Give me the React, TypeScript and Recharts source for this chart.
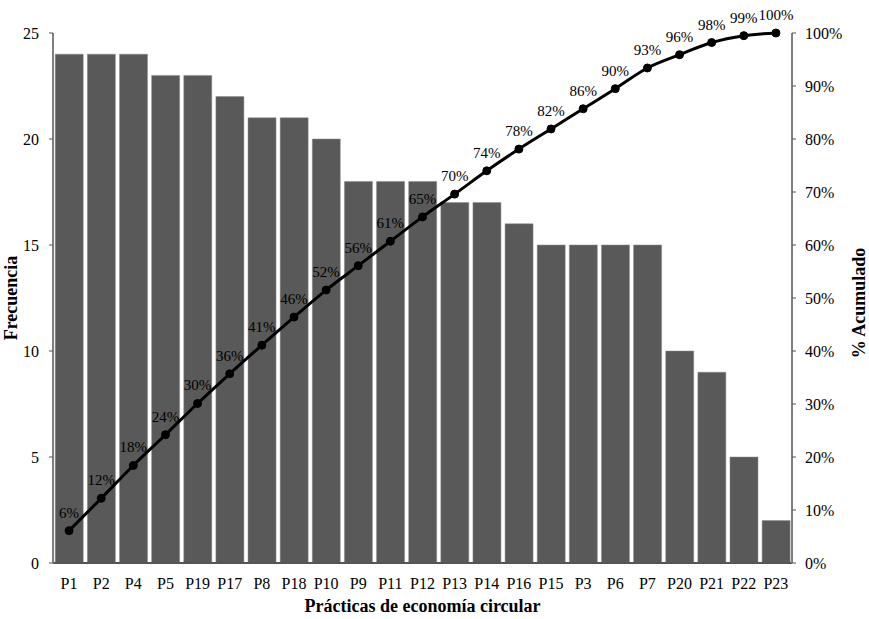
import React from 'react';
import { ComposedChart, Bar, Line, XAxis, YAxis, LabelList, Label } from 'recharts';

const categories = ['P1', 'P2', 'P4', 'P5', 'P19', 'P17', 'P8', 'P18', 'P10', 'P9', 'P11', 'P12', 'P13', 'P14', 'P16', 'P15', 'P3', 'P6', 'P7', 'P20', 'P21', 'P22', 'P23'];
const frecuencia = [24, 24, 24, 23, 23, 22, 21, 21, 20, 18, 18, 18, 17, 17, 16, 15, 15, 15, 15, 10, 9, 5, 2];
const acumulado = [6.1, 12.2, 18.4, 24.2, 30.1, 35.7, 41.1, 46.4, 51.5, 56.1, 60.7, 65.3, 69.6, 74.0, 78.1, 81.9, 85.7, 89.5, 93.4, 95.9, 98.2, 99.5, 100];
const acumuladoLabels = ['6%', '12%', '18%', '24%', '30%', '36%', '41%', '46%', '52%', '56%', '61%', '65%', '70%', '74%', '78%', '82%', '86%', '90%', '93%', '96%', '98%', '99%', '100%'];
const leftTicks = [0, 5, 10, 15, 20, 25];
const rightTicks = [0, 10, 20, 30, 40, 50, 60, 70, 80, 90, 100];

const data = categories.map((c, i) => ({
  name: c,
  frecuencia: frecuencia[i],
  acumulado: acumulado[i],
  label: acumuladoLabels[i],
}));

const FONT = '"Liberation Serif", "Times New Roman", serif';
const tickStyle = { fontFamily: FONT, fontSize: 16, fill: '#000' };

const LeftTitle = (props: any) => {
  const vb = props.viewBox || {};
  const x = vb.x + 11;
  const y = vb.y + vb.height / 2;
  return (
    <text x={x} y={y} transform={`rotate(-90, ${x}, ${y})`} textAnchor="middle" dominantBaseline="central"
      style={{ fontFamily: FONT, fontSize: 18, fontWeight: 'bold', fill: '#000' }}>
      Frecuencia
    </text>
  );
};

const RightTitle = (props: any) => {
  const vb = props.viewBox || {};
  const x = vb.x + 67;
  const y = vb.y + vb.height / 2 + 5;
  return (
    <text x={x} y={y} transform={`rotate(-90, ${x}, ${y})`} textAnchor="middle" dominantBaseline="central"
      style={{ fontFamily: FONT, fontSize: 18, fontWeight: 'bold', fill: '#000' }}>
      % Acumulado
    </text>
  );
};

const BottomTitle = (props: any) => {
  const vb = props.viewBox || {};
  const x = vb.x + vb.width / 2;
  const y = vb.y + 49;
  return (
    <text x={x} y={y} textAnchor="middle"
      style={{ fontFamily: FONT, fontSize: 18, fontWeight: 'bold', fill: '#000' }}>
      Prácticas de economía circular
    </text>
  );
};

export default function App() {
  return (
    <div style={{ position: 'absolute', left: 0, top: 0, width: 869, height: 619, background: '#fff' }}>
      <ComposedChart width={869} height={619} data={data} margin={{ top: 33, right: 0, bottom: 0, left: 0 }} barCategoryGap="7%">
        <XAxis dataKey="name" interval={0} tickLine={false} tickSize={0} tickMargin={15} height={56}
          axisLine={{ stroke: '#555', strokeWidth: 2 }} tick={tickStyle}>
          <Label content={<BottomTitle />} />
        </XAxis>
        <YAxis yAxisId="left" orientation="left" width={53} domain={[0, 25]} ticks={leftTicks} interval={0}
          tickSize={4} tickMargin={10} axisLine={{ stroke: '#7f7f7f', strokeWidth: 2 }} tickLine={{ stroke: '#555' }} tick={tickStyle}>
          <Label content={<LeftTitle />} />
        </YAxis>
        <YAxis yAxisId="right" orientation="right" width={77} domain={[0, 100]} ticks={rightTicks} interval={0}
          tickSize={4} tickMargin={9} tickFormatter={(v: number) => `${v}%`}
          axisLine={{ stroke: '#7f7f7f', strokeWidth: 2 }} tickLine={{ stroke: '#555' }} tick={tickStyle}>
          <Label content={<RightTitle />} />
        </YAxis>
        <Bar yAxisId="left" dataKey="frecuencia" fill="#595959" stroke="#8a8a8a" strokeWidth={0.5} isAnimationActive={false} />
        <Line yAxisId="right" type="monotone" dataKey="acumulado" stroke="#000" strokeWidth={3}
          dot={{ r: 4, fill: '#000', stroke: '#000', strokeWidth: 1 }} activeDot={false} isAnimationActive={false}>
          <LabelList dataKey="label" position="top" offset={13}
            style={{ fontFamily: FONT, fontSize: 15, fill: '#000' }} />
        </Line>
      </ComposedChart>
    </div>
  );
}
